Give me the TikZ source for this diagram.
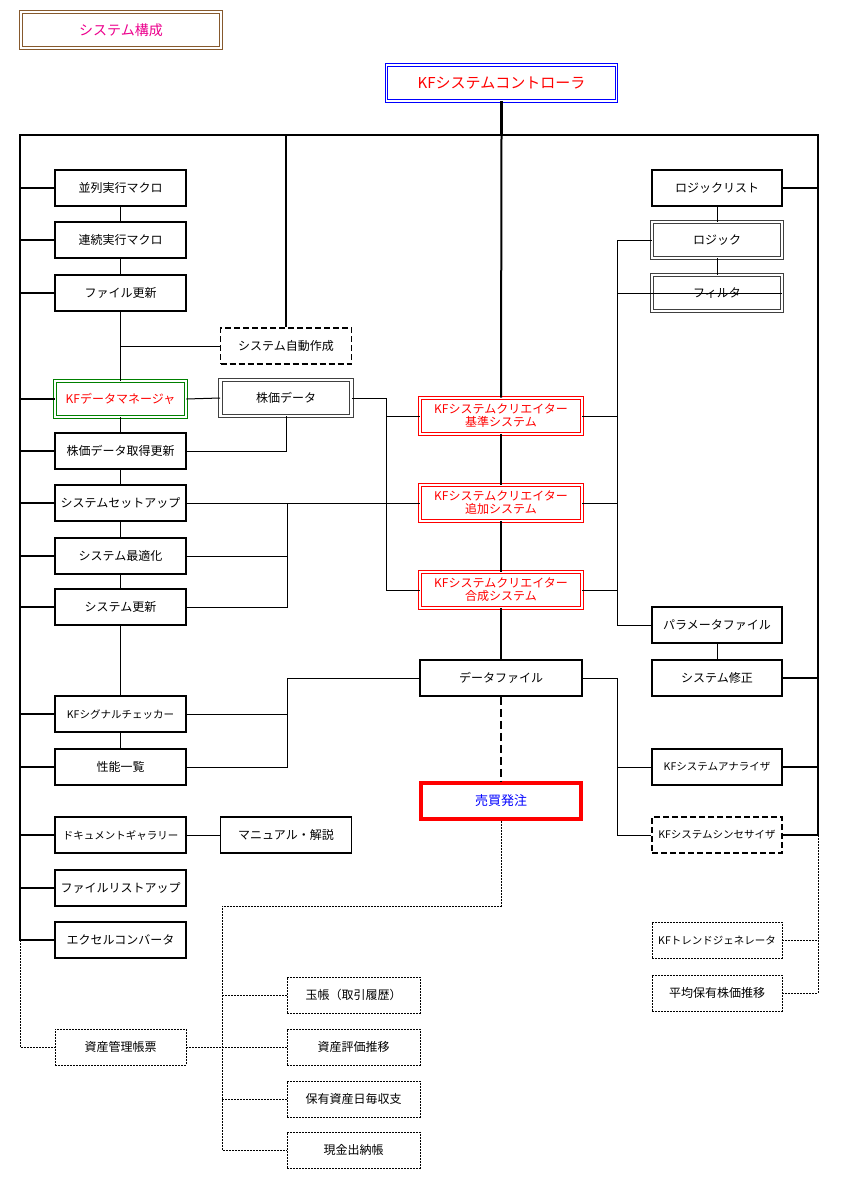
\documentclass[tikz,border=0pt]{standalone}
\usepackage{fontspec}
\setmainfont{Noto Sans CJK JP}
\begin{document}
\begin{tikzpicture}[x=1pt,y=-1pt,
 base/.style={inner sep=0pt,minimum width=131pt,minimum height=36pt,font=\fontsize{12}{14}\selectfont},
 box/.style={base,draw,line width=1.8pt},
 small/.style={font=\fontsize{10.5}{12}\selectfont},
 dbl/.style={base,draw=black!75,double=white,double distance=2.5pt,line width=0.9pt},
 cre/.style={base,draw=red,double=white,double distance=2pt,line width=0.8pt,text=red,minimum width=162pt,align=center,font=\fontsize{12}{13}\selectfont},
 dsh/.style={base,draw,line width=1.8pt,dash pattern=on 6pt off 3pt},
 dotb/.style={base,draw,line width=0.8pt,dash pattern=on 2pt off 1pt},
 bus/.style={line width=2.5pt},
 mid/.style={line width=2pt},
 thin/.style={line width=1pt},
 dotl/.style={line width=0.8pt,dash pattern=on 2pt off 1pt}]
\useasboundingbox (0,0) rectangle (840,1193);
% title and controller
\node[base,draw=brown!70!black,double=white,double distance=1.5pt,line width=0.8pt,minimum width=200pt,text=magenta,font=\fontsize{14}{16}\selectfont] (title) at (121,30) {システム構成};
\node[base,draw=blue,double=white,double distance=1.5pt,line width=0.8pt,minimum width=230pt,text=red,font=\fontsize{15}{17}\selectfont] (ctrl) at (501.5,83) {KFシステムコントローラ};
% left column
\node[box] (p1) at (120.5,188) {並列実行マクロ};
\node[box] (p2) at (120.5,240) {連続実行マクロ};
\node[box] (p3) at (120.5,293) {ファイル更新};
\node[base,draw=green!50!black,double=white,double distance=1.5pt,line width=0.8pt,text=red] (dm) at (120.5,399) {KFデータマネージャ};
\node[box] (kdu) at (120.5,451) {株価データ取得更新};
\node[box] (setup) at (120.5,503) {システムセットアップ};
\node[box] (opt) at (120.5,556) {システム最適化};
\node[box] (upd) at (120.5,607) {システム更新};
\node[box,small] (sig) at (120.5,714) {KFシグナルチェッカー};
\node[box] (perf) at (120.5,767) {性能一覧};
\node[box,small] (doc) at (120.5,835) {ドキュメントギャラリー};
\node[box] (flist) at (120.5,888) {ファイルリストアップ};
\node[box] (xl) at (120.5,940) {エクセルコンバータ};
\node[dotb] (asset) at (120.5,1047) {資産管理帳票};
% second column
\node[dsh] (auto) at (286,346) {システム自動作成};
\node[dbl] (kd) at (286,398) {株価データ};
\node[box] (man) at (286,835) {マニュアル・解説};
% center
\node[cre] (c1) at (501,416) {KFシステムクリエイター\\基準システム};
\node[cre] (c2) at (501,503) {KFシステムクリエイター\\追加システム};
\node[cre] (c3) at (501,590) {KFシステムクリエイター\\合成システム};
\node[box,minimum width=162pt] (df) at (501,678) {データファイル};
\node[base,draw=red,line width=3.5pt,minimum width=160pt,text=blue,font=\fontsize{13}{15}\selectfont] (order) at (501,801) {売買発注};
% right column
\node[box,line width=2.5pt,minimum width=130pt] (ll) at (717,188) {ロジックリスト};
\node[dbl,minimum width=130pt] (logic) at (717,240) {ロジック};
\node[dbl,minimum width=130pt] (filt) at (717,293) {フィルタ};
\node[box,minimum width=130pt] (param) at (717,625) {パラメータファイル};
\node[box,minimum width=130pt] (fix) at (717,678) {システム修正};
\node[box,small,minimum width=130pt] (ana) at (717,767) {KFシステムアナライザ};
\node[dsh,small,minimum width=130pt] (syn) at (717,835) {KFシステムシンセサイザ};
\node[dotb,small,minimum width=130pt] (trend) at (717,940) {KFトレンドジェネレータ};
\node[dotb,minimum width=130pt] (avg) at (717,993) {平均保有株価推移};
% bottom
\node[dotb,minimum width=133pt] (tama) at (353.5,995) {玉帳（取引履歴）};
\node[dotb,minimum width=133pt] (eval) at (353.5,1047) {資産評価推移};
\node[dotb,minimum width=133pt] (daily) at (353.5,1099) {保有資産日毎収支};
\node[dotb,minimum width=133pt] (cash) at (353.5,1150) {現金出納帳};
% junction coordinates
\coordinate (TL) at (20,135); \coordinate (TR) at (818,135);
\coordinate (LB) at (20,940); \coordinate (RB) at (818,835);
\coordinate (ja) at (386,0); \coordinate (jb) at (287,0);
\coordinate (jc) at (617,0); \coordinate (jd) at (222,906);
% buses
\draw[bus] (ctrl.south) -- (ctrl.south |- TL);
\draw[bus,line cap=rect] (LB) -- (TL) -- (TR) -- (RB);
\draw[bus] (auto.north) -- (auto.north |- TL);
\foreach \n in {p1,p2,p3,dm,kdu,setup,opt,upd,sig,perf,doc,flist,xl}
  \draw[bus] (\n.west) -- (\n.west -| TL);
\foreach \n in {ll,fix,ana,syn}
  \draw[bus] (\n.east) -- (\n.east -| TR);
\draw[mid] (ctrl.south |- TL) -- (c1.north);
\draw[mid] (c1.south) -- (c2.north);
\draw[mid] (c2.south) -- (c3.north);
\draw[mid] (c3.south) -- (df.north);
\draw[mid,dash pattern=on 8pt off 4pt] (df.south) -- (order.north);
% thin connectors left
\draw[thin] (p1.south) -- (p2.north);
\draw[thin] (p2.south) -- (p3.north);
\draw[thin] (p3.south) -- (dm.north);
\draw[thin] (auto.west) -- (auto.west -| p3.south);
\draw[thin] (dm.south) -- (kdu.north);
\draw[thin] (kdu.south) -- (setup.north);
\draw[thin] (setup.south) -- (opt.north);
\draw[thin] (opt.south) -- (upd.north);
\draw[thin] (upd.south) -- (sig.north);
\draw[thin] (sig.south) -- (perf.north);
\draw[thin] (dm.east) -- (kd.west);
\draw[thin] (kd.south) |- (kdu.east);
\draw[thin] (kd.east) -| (ja |- c3.west) -- (c3.west);
\draw[thin] (c1.west) -- (c1.west -| ja);
\draw[thin] (setup.east) -- (c2.west);
\draw[thin] (setup.east -| jb) |- (upd.east);
\draw[thin] (opt.east) -- (opt.east -| jb);
\draw[thin] (df.west) -| (jb |- perf.east) -- (perf.east);
\draw[thin] (sig.east) -- (sig.east -| jb);
\draw[thin] (doc.east) -- (man.west);
% thin connectors right
\draw[thin] (ll.south) -- (logic.north);
\draw[thin] (logic.south) -- (filt.north);
\draw[thin] (param.south) -- (fix.north);
\draw[thin] (logic.west) -| (jc |- param.west) -- (param.west);
\foreach \n in {filt,c1,c2,c3} \draw[thin] (\n.east) -- (\n.east -| jc);
\draw[thin] (filt.west) -- (filt.west -| jc);
\draw[thin] (df.east) -| (jc |- syn.west) -- (syn.west);
\draw[thin] (ana.west) -- (ana.west -| jc);
% dotted
\draw[dotl] (RB) |- (avg.east);
\draw[dotl] (trend.east) -- (trend.east -| RB);
\draw[dotl] (order.south) |- (jd) |- (cash.west);
\foreach \n in {tama,daily} \draw[dotl] (\n.west) -- (\n.west -| jd);
\draw[dotl] (asset.east) -- (eval.west);
\draw[dotl] (LB) |- (asset.west);
\end{tikzpicture}
\end{document}
